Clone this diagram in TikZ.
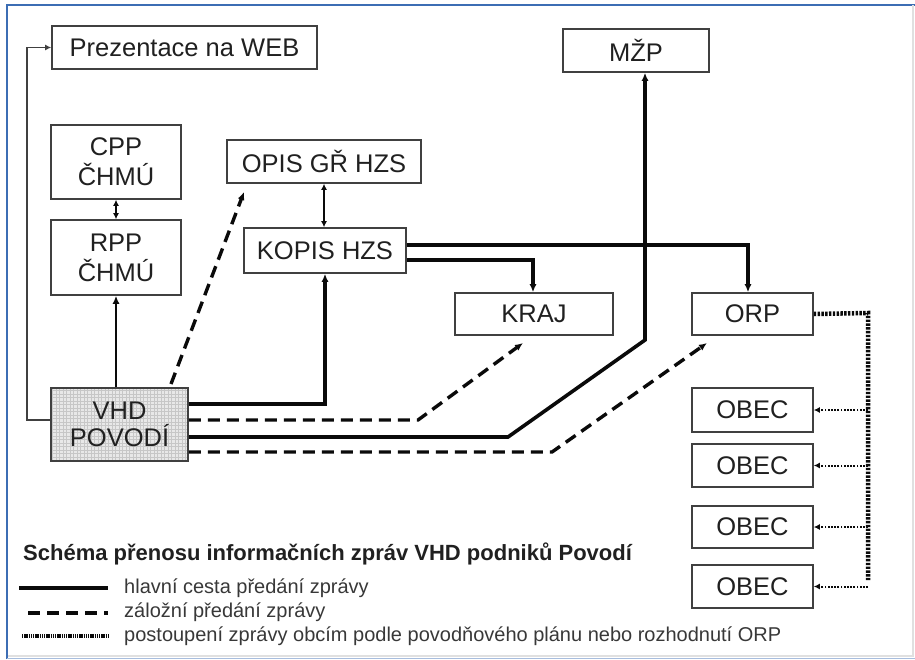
\documentclass[tikz,border=0pt]{standalone}
\usepackage{fontspec}
\setmainfont{Liberation Sans}
\usetikzlibrary{arrows.meta}
\definecolor{frameblue}{HTML}{3C6DB4}
\definecolor{boxgray}{HTML}{404040}
\definecolor{txt}{HTML}{202020}
\definecolor{legtxt}{HTML}{383838}
\definecolor{conn}{HTML}{0A0A0A}
\begin{document}
\begin{tikzpicture}[x=1pt,y=-1pt,
  box/.style={draw=boxgray, line width=1.6pt, inner sep=0pt, text=txt, align=center,
    font=\fontsize{25.5}{30}\selectfont},
  thinline/.style={draw=boxgray, line width=1.6pt},
  medline/.style={draw=conn, line width=2.4pt},
  mainline/.style={draw=conn, line width=3.6pt},
  dashline/.style={draw=conn, line width=3.4pt, dash pattern=on 12pt off 7pt},
  bigdot/.style={draw=conn, line width=4.5pt, dash pattern=on 2.4pt off 1.4pt},
  smalldot/.style={draw=conn, line width=2pt, dash pattern=on 1.8pt off 1.4pt},
  tip/.style={-{Latex[length=8pt,width=7pt]}},
  smalltip/.style={-{Latex[length=6pt,width=6pt]}},
  dtip/.style={{Latex[length=6pt,width=6pt]}-{Latex[length=6pt,width=6pt]}},
  legtext/.style={anchor=base west, inner sep=0pt, text=legtxt, font=\fontsize{20}{24}\selectfont}
]
\useasboundingbox (0,0) rectangle (915,659);
% frame
\draw[frameblue, line width=2pt] (7,659) -- (7,5) -- (915,5);
\draw[black!12, line width=1.5pt] (913,5) -- (913,656) -- (8,656);
\draw[frameblue!45, line width=1.5pt] (7,658.5) -- (915,658.5);

% boxes
\node[box, minimum width=265pt, minimum height=43pt] (web) at (184.5,47.5) {Prezentace na WEB};
\node[box, minimum width=130pt, minimum height=74pt] (cpp) at (116,162) {CPP\\ČHMÚ};
\node[box, minimum width=130pt, minimum height=75pt] (rpp) at (116,257.5) {RPP\\ČHMÚ};
\node[box, minimum width=194pt, minimum height=43pt] (opis) at (324,161.5) {OPIS GŘ HZS};
\node[box, minimum width=162pt, minimum height=45pt] (kopis) at (325,250.5) {KOPIS HZS};
\node[box, minimum width=146pt, minimum height=43pt] (mzp) at (636,50.5) {MŽP};
\node[box, minimum width=158pt, minimum height=42pt] (kraj) at (534,314) {KRAJ};
\node[box, minimum width=121pt, minimum height=42pt] (orp) at (752.5,314) {ORP};
\node[box, minimum width=121pt, minimum height=44pt] (obec1) at (752.5,410) {OBEC};
\node[box, minimum width=121pt, minimum height=43pt] (obec2) at (752.5,465.5) {OBEC};
\node[box, minimum width=121pt, minimum height=42pt] (obec3) at (752.5,527) {OBEC};
\node[box, minimum width=121pt, minimum height=43pt] (obec4) at (752.5,586.5) {OBEC};
\node[box, fill=black!9, minimum width=137pt, minimum height=73pt,
  font=\fontsize{25.5}{27}\selectfont,
  path picture={\draw[black!22, line width=0.5pt, step=3.5pt]
    (path picture bounding box.south west) grid (path picture bounding box.north east);}]
  (vhd) at (119.5,424.5) {VHD\\POVODÍ};

% coordinates for bends
\coordinate (wA) at (27,420);
\coordinate (wB) at (27,47.5);
\coordinate (k1) at (325,404);
\coordinate (o1) at (748,245);
\coordinate (kr1) at (533,260);
\coordinate (m1) at (508,437);
\coordinate (m2) at (645,340);
\coordinate (d1) at (418,420);
\coordinate (d2) at (523,343);
\coordinate (e1) at (552,452);
\coordinate (e2) at (707,343);
\coordinate (f1) at (171,384);
\coordinate (f2) at (244,192);
\coordinate (p1) at (868,313);
\coordinate (p2) at (868,580);

% connectors
\draw[thinline, smalltip] (vhd.west |- wA) -- (wA) -- (wB) -- (web.west);
\draw[medline, tip] (rpp.south |- vhd.north) -- (rpp.south);
\draw[medline, dtip] (rpp.north) -- (cpp.south);
\draw[medline, dtip] (opis.south) -- (opis.south |- kopis.north);
\draw[mainline, tip] (vhd.east |- k1) -- (k1) -- (kopis.south);
\draw[mainline, tip] (kopis.east |- o1) -- (o1) -- (o1 |- orp.north);
\draw[mainline, tip] (kopis.east |- kr1) -- (kr1) -- (kr1 |- kraj.north);
\draw[mainline, tip] (vhd.east |- m1) -- (m1) -- (m2) -- (m2 |- mzp.south);
\draw[dashline, tip] (vhd.east |- d1) -- (d1) -- (d2);
\draw[dashline, tip] (vhd.east |- e1) -- (e1) -- (e2);
\draw[dashline, tip] (f1) -- (f2);
\draw[bigdot] (orp.east) -- (p1) -- (p2);
\draw[smalldot, smalltip] (p1 |- obec1.east) -- (obec1.east);
\draw[smalldot, smalltip] (p1 |- obec2.east) -- (obec2.east);
\draw[smalldot, smalltip] (p1 |- obec3.east) -- (obec3.east);
\draw[smalldot, smalltip] (p1 |- obec4.east) -- (obec4.east);

% legend
\node[anchor=base west, inner sep=0pt, text=txt, font=\bfseries\fontsize{22}{26}\selectfont]
  (title) at (23,560) {Schéma přenosu informačních zpráv VHD podniků Povodí};
\coordinate (la1) at (19,588); \coordinate (lb1) at (108,588);
\coordinate (la2) at (28,613); \coordinate (lb2) at (108,613);
\coordinate (la3) at (22,636); \coordinate (lb3) at (108,636);
\draw[mainline] (la1) -- (lb1);
\draw[dashline] (la2) -- (lb2);
\draw[draw=conn, line width=3.4pt, dash pattern=on 1.3pt off 0.9pt] (la3) -- (lb3);
\node[legtext] (lt1) at (124,593) {hlavní cesta předání zprávy};
\node[legtext] (lt2) at (124,617) {záložní předání zprávy};
\node[legtext] (lt3) at (124,641) {postoupení zprávy obcím podle povodňového plánu nebo rozhodnutí ORP};
\end{tikzpicture}
\end{document}
